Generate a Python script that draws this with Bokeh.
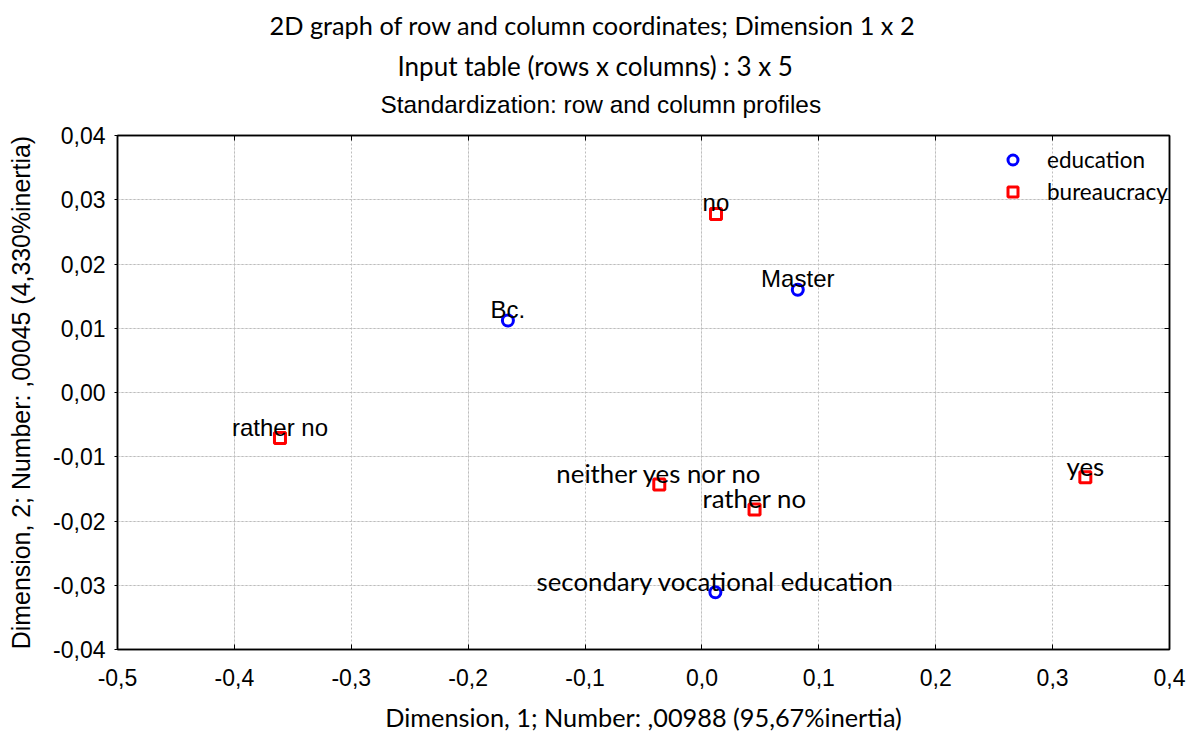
from bokeh.plotting import figure
from bokeh.models import (LinearAxis, FixedTicker, CustomJSTickFormatter, Title,
                          Legend, LegendItem, ColumnDataSource, Range1d, Grid)
from bokeh.embed import file_html
from bokeh.resources import INLINE

# ---------------- data ----------------
edu_labels = ["Bc.", "Master", "secondary vocational education"]
edu_x = [-0.166, 0.082, 0.0115]
edu_y = [0.0112, 0.0160, -0.0311]

bur_labels = ["yes", "rather no", "no", "neither yes nor no", "rather no"]
bur_x = [0.328, 0.045, 0.012, -0.0365, -0.361]
bur_y = [-0.0132, -0.0182, 0.0278, -0.0143, -0.0071]

x_ticks = [-0.5, -0.4, -0.3, -0.2, -0.1, 0.0, 0.1, 0.2, 0.3, 0.4]
y_ticks = [-0.04, -0.03, -0.02, -0.01, 0.0, 0.01, 0.02, 0.03, 0.04]

title_lines = ["2D graph of row and column coordinates; Dimension 1 x 2",
               "Input table (rows x columns) : 3 x 5",
               "Standardization: row and column profiles"]
x_title = "Dimension, 1; Number: ,00988 (95,67%inertia)"
y_title = "Dimension, 2; Number: ,00045 (4,330%inertia)"
series_names = ["education", "bureaucracy"]

# label fonts (style only)
ARIAL = "Liberation Sans"
CALIBRI = "Lato"
edu_fonts = [ARIAL, ARIAL, CALIBRI]
bur_fonts = [CALIBRI, CALIBRI, ARIAL, CALIBRI, ARIAL]
edu_sizes = ["24px", "24px", "25.8px"]
bur_sizes = ["25.8px", "25.8px", "24px", "25.8px", "24px"]

edu_src = ColumnDataSource(dict(x=edu_x, y=edu_y, label=edu_labels, font=edu_fonts, size=edu_sizes))
bur_src = ColumnDataSource(dict(x=bur_x, y=bur_y, label=bur_labels, font=bur_fonts, size=bur_sizes))

p = figure(width=1188, height=734, output_backend="svg", toolbar_location=None,
           x_range=Range1d(x_ticks[0], x_ticks[-1]), y_range=Range1d(y_ticks[0], y_ticks[-1]),
           min_border_left=117, min_border_right=19, min_border_top=135, min_border_bottom=83,
           x_axis_location=None, y_axis_location=None)
p.outline_line_color = "black"
p.outline_line_width = 1.5
p.background_fill_color = "white"
p.border_fill_color = "white"

x_fmt = CustomJSTickFormatter(code="var t = Math.abs(tick) < 1e-9 ? 0 : tick; return t.toFixed(1).replace('.', ',');")
y_fmt = CustomJSTickFormatter(code="var t = Math.abs(tick) < 1e-9 ? 0 : tick; return t.toFixed(2).replace('.', ',');")
empty_fmt = CustomJSTickFormatter(code="return '';")

def style_axis(ax):
    ax.axis_line_color = "black"
    ax.axis_line_width = 1.5
    ax.major_tick_line_color = "black"
    ax.minor_tick_line_color = "black"
    ax.major_tick_in = 5
    ax.major_tick_out = 3
    ax.minor_tick_in = 4
    ax.minor_tick_out = 0

xb = LinearAxis(ticker=FixedTicker(ticks=x_ticks, num_minor_ticks=4), formatter=x_fmt,
                axis_label=x_title)
style_axis(xb)
xb.major_tick_out = 0
xb.major_label_standoff = 19
xb.major_label_text_font = ARIAL
xb.major_label_text_font_size = "23px"
xb.major_label_text_color = "black"
xb.axis_label_text_font = CALIBRI
xb.axis_label_text_font_size = "25.3px"
xb.axis_label_text_font_style = "normal"
xb.axis_label_text_color = "black"
xb.axis_label_standoff = 13
p.add_layout(xb, "below")

yl = LinearAxis(ticker=FixedTicker(ticks=y_ticks, num_minor_ticks=4), formatter=y_fmt,
                axis_label=y_title)
style_axis(yl)
yl.major_tick_in = 0
yl.major_label_standoff = 9
yl.major_label_text_font = ARIAL
yl.major_label_text_font_size = "23px"
yl.major_label_text_color = "black"
yl.axis_label_text_font = ARIAL
yl.axis_label_text_font_size = "24.9px"
yl.axis_label_text_font_style = "normal"
yl.axis_label_text_color = "black"
yl.axis_label_standoff = 15
p.add_layout(yl, "left")

xt = LinearAxis(ticker=FixedTicker(ticks=x_ticks, num_minor_ticks=4), formatter=empty_fmt)
style_axis(xt)
xt.major_tick_out = 0
xt.major_label_standoff = 0
xt.major_label_text_font_size = "1px"
p.add_layout(xt, "above")

# invisible spacer between the frame and the titles
spacer = LinearAxis(ticker=FixedTicker(ticks=x_ticks), formatter=empty_fmt,
                    axis_line_color=None, major_tick_line_color=None, minor_tick_line_color=None,
                    major_tick_in=0, major_tick_out=12, minor_tick_in=0, minor_tick_out=0,
                    major_label_standoff=0, major_label_text_font_size="1px")
p.add_layout(spacer, "above")

yr = LinearAxis(ticker=FixedTicker(ticks=y_ticks, num_minor_ticks=4), formatter=empty_fmt)
style_axis(yr)
yr.major_tick_out = 0
yr.major_label_standoff = 0
yr.major_label_text_font_size = "1px"
p.add_layout(yr, "right")

# titles (innermost first)
t3 = Title(text=title_lines[2], align="left", offset=263, text_font=ARIAL, vertical_align="middle",
           text_font_size="24.4px", text_font_style="normal", text_color="black", standoff=9)
t2 = Title(text=title_lines[1], align="left", offset=280, text_font=CALIBRI, vertical_align="middle",
           text_font_size="26px", text_font_style="normal", text_color="black", standoff=5)
t1 = Title(text=title_lines[0], align="left", offset=152, text_font=CALIBRI, vertical_align="middle",
           text_font_size="25.3px", text_font_style="normal", text_color="black", standoff=11)
p.add_layout(t3, "above")
p.add_layout(t2, "above")
p.add_layout(t1, "above")

# grid
p.add_layout(Grid(dimension=0, ticker=FixedTicker(ticks=x_ticks), grid_line_color="#bdbdbd",
                  grid_line_dash="2 2", grid_line_width=1))
p.add_layout(Grid(dimension=1, ticker=FixedTicker(ticks=y_ticks), grid_line_color="#bdbdbd",
                  grid_line_dash="2 2", grid_line_width=1))

# points
r_edu = p.scatter("x", "y", source=edu_src, marker="circle", size=11, fill_color=None,
                  line_color="#0000ff", line_width=3)
r_bur = p.scatter("x", "y", source=bur_src, marker="square", size=11, fill_color=None,
                  line_color="#ff0000", line_width=3)

for src in (edu_src, bur_src):
    p.text("x", "y", text="label", source=src, text_align="center", text_baseline="alphabetic",
           y_offset=-11, text_font="font", text_font_size="size", text_color="black")

legend = Legend(items=[LegendItem(label=series_names[0], renderers=[r_edu]),
                       LegendItem(label=series_names[1], renderers=[r_bur])],
                location=(883, 444), background_fill_alpha=0, border_line_color=None,
                padding=0, margin=0, spacing=5, glyph_height=25, glyph_width=25,
                label_height=25, label_standoff=22, label_text_font=CALIBRI,
                label_text_font_size="22.5px", label_text_color="black")
p.add_layout(legend, "center")

open("out.html", "w").write(file_html(p, INLINE))
